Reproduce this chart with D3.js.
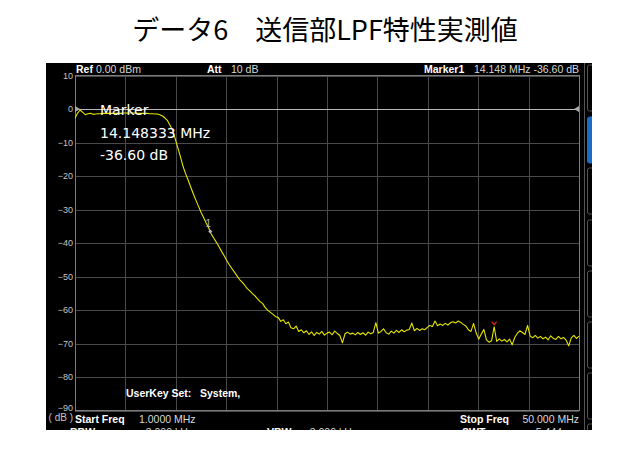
<!DOCTYPE html>
<html><head><meta charset="utf-8">
<script src="https://cdn.jsdelivr.net/npm/d3@7/dist/d3.min.js"></script>
<style>body{margin:0;background:#fff}svg{display:block}</style>
</head><body><svg id="c" width="635" height="451"></svg>
<script>
// ---- data ----
const title = "データ6　送信部LPF特性実測値";
const yTicks = [10, 0, -10, -20, -30, -40, -50, -60, -70, -80, -90];
const startFreq = 1.0;      // MHz
const stopFreq = 50.0;      // MHz
const sweepStep = 0.25;     // MHz between trace points
const refLevel = 0;         // dB
const traceDb = [
  -2.8,-1.2,-0.3,-1.0,-1.7,-1.4,-1.3,-1.6,-1.5,-1.4,-1.4,-1.3,-1.3,-1.3,-1.3,-1.3,
  -1.3,-1.3,-1.3,-1.2,-1.2,-1.2,-1.2,-1.2,-1.3,-1.3,-1.3,-1.3,-1.3,-1.4,-1.4,-1.5,
  -1.5,-1.7,-2.1,-2.7,-3.5,-4.9,-6.4,-9.0,-11.6,-14.2,-17.1,-19.3,-21.2,-23.3,-25.3,-27.2,
  -29.0,-30.8,-32.4,-34.0,-35.5,-37.3,-38.6,-39.8,-41.1,-42.5,-43.8,-45.2,-46.5,-47.6,-48.7,-49.8,
  -50.9,-51.7,-52.6,-53.6,-54.3,-55.1,-55.8,-56.7,-57.5,-58.1,-59.3,-60.1,-60.7,-61.3,-62.0,-62.2,
  -63.4,-62.9,-64.1,-63.6,-65.3,-65.6,-64.8,-66.4,-65.9,
  -66.8,-66.2,-67.3,-66.5,-67.6,-66.7,-67.2,-66.4,-67.5,-66.9,-66.6,-67.4,-66.3,-67.0,-67.6,-69.8,
  -67.1,-66.6,-67.2,-66.9,-67.4,-66.7,-67.3,-66.8,-67.5,-66.6,-67.1,-66.7,-63.8,-66.9,-66.4,-65.6,
  -66.8,-67.2,-66.3,-66.9,-66.1,-66.7,-65.9,-66.5,-66.0,-65.8,-63.9,-66.2,-65.5,-66.1,-65.6,-65.9,
  -65.2,-64.6,-64.9,-63.3,-64.7,-64.2,-64.6,-64.0,-64.5,-63.8,-63.5,-63.9,-63.3,-63.7,-64.3,-64.8,
  -65.9,-66.4,-64.0,-66.8,-68.7,-67.2,-65.8,-68.9,-69.6,-69.2,-65.0,-69.4,-68.6,-69.3,-68.8,-69.5,
  -68.7,-70.4,-68.2,-67.0,-66.2,-66.7,-67.3,-64.6,-67.8,-68.3,-67.6,-68.4,-67.9,-68.6,-68.1,-68.9,
  -67.7,-68.5,-68.8,-67.9,-68.6,-68.2,-69.0,-70.7,-68.3,-67.6,-68.5,-67.8
];
const markerFreq = 14.148333;   // MHz
const markerDb = -36.60;
const peakFreq = 41.75;         // red peak indicator
const peakDb = -64.4;
const headerTexts = [
  {label:"Ref", value:"0.00 dBm"},
  {label:"Att", value:"10 dB"},
  {label:"Marker1", value:"14.148 MHz   -36.60 dB"}
];
const footerRow1 = [["Start Freq","1.0000 MHz"],["Stop Freq","50.000 MHz"]];
const footerRow2 = [["RBW","3.000 kHz"],["VBW","3.000 kHz"],["SWT","5.444 ms"]];
const userKeyText = ["UserKey Set:", "System,"];
const markerBox = ["Marker", "14.148333 MHz", "-36.60 dB"];

// ---- drawing ----
const svg = d3.select("#c");
const W = 635, H = 451;
svg.append("rect").attr("width", W).attr("height", H).attr("fill", "#fff");

svg.append("text").attr("x", 325).attr("y", 40).attr("text-anchor", "middle")
  .attr("font-family", "'Noto Sans CJK JP', 'Noto Sans', sans-serif")
  .attr("font-size", 27).attr("fill", "#000").text(title);

// screen area
const scr = {x0: 46, y0: 63, x1: 592, y1: 430};
const defs = svg.append("defs");
defs.append("clipPath").attr("id", "scr").append("rect")
  .attr("x", scr.x0).attr("y", scr.y0).attr("width", scr.x1 - scr.x0).attr("height", scr.y1 - scr.y0);
const plot = {x0: 75, x1: 579, y0: 75.5, y1: 410.5};
defs.append("clipPath").attr("id", "plt").append("rect")
  .attr("x", plot.x0).attr("y", plot.y0 - 1).attr("width", plot.x1 - plot.x0).attr("height", plot.y1 - plot.y0 + 2);

const g = svg.append("g").attr("clip-path", "url(#scr)");
g.append("rect").attr("x", scr.x0).attr("y", scr.y0).attr("width", scr.x1 - scr.x0)
  .attr("height", scr.y1 - scr.y0).attr("fill", "#000");

const x = d3.scaleLinear().domain([startFreq, stopFreq]).range([plot.x0, plot.x1]);
const y = d3.scaleLinear().domain([-90, 10]).range([plot.y1, plot.y0]);

// vertical grid (10 divisions)
const divs = d3.range(11).map(i => startFreq + i * (stopFreq - startFreq) / 10);
const xg = g.append("g").attr("transform", `translate(0,${plot.y1})`)
  .call(d3.axisBottom(x).tickValues(divs).tickFormat("").tickSize(-(plot.y1 - plot.y0)));
xg.select(".domain").remove();
xg.selectAll("line").attr("stroke", "#4a4a4a").attr("shape-rendering", "crispEdges");

// horizontal grid + labels
const yg = g.append("g").attr("transform", `translate(${plot.x0},0)`)
  .call(d3.axisLeft(y).tickValues(yTicks).tickSize(-(plot.x1 - plot.x0)).tickPadding(2));
yg.select(".domain").remove();
yg.selectAll("line").attr("stroke", "#4a4a4a").attr("shape-rendering", "crispEdges");
yg.selectAll("text").attr("fill", "#c4c4c4").attr("font-size", 9)
  .attr("font-family", "'Liberation Sans', Arial, sans-serif");
yg.selectAll(".tick").filter(d => d === -90).select("text").attr("dy", "0.0em");

// frame
g.append("rect").attr("x", plot.x0).attr("y", plot.y0).attr("width", plot.x1 - plot.x0)
  .attr("height", plot.y1 - plot.y0).attr("fill", "none").attr("stroke", "#7c7c7c")
  .attr("shape-rendering", "crispEdges");

// reference level line
g.append("line").attr("x1", plot.x0).attr("x2", plot.x1).attr("y1", y(refLevel)).attr("y2", y(refLevel))
  .attr("stroke", "#b8b8b8").attr("shape-rendering", "crispEdges");
g.append("path").attr("d", `M${plot.x0},${y(refLevel)-3}L${plot.x0+5},${y(refLevel)}L${plot.x0},${y(refLevel)+3}Z`).attr("fill", "#aaa");
g.append("path").attr("d", `M${plot.x1},${y(refLevel)-3}L${plot.x1-5},${y(refLevel)}L${plot.x1},${y(refLevel)+3}Z`).attr("fill", "#aaa");

// trace
const pts = traceDb.map((v, i) => [startFreq + i * sweepStep, v]);
g.append("path").datum(pts).attr("clip-path", "url(#plt)")
  .attr("d", d3.line().x(d => x(d[0])).y(d => y(d[1])))
  .attr("fill", "none").attr("stroke", "#e6e600").attr("stroke-width", 1.1).attr("stroke-linejoin", "round");

// marker
const mx = x(markerFreq), my = y(markerDb);
g.append("path").attr("d", `M${mx},${my-2}L${mx+2},${my}L${mx},${my+2}L${mx-2},${my}Z`).attr("fill", "#bbb");
g.append("text").attr("x", mx - 2).attr("y", my - 5).attr("font-size", 10).attr("fill", "#bbb")
  .attr("font-family", "'Liberation Sans', Arial, sans-serif").attr("text-anchor", "middle").text("1");

// peak indicator (red)
const px = x(peakFreq), py = y(peakDb);
g.append("path").attr("d", `M${px-2.5},${py-3}L${px},${py}L${px+2.5},${py-3}`)
  .attr("fill", "none").attr("stroke", "#e02020").attr("stroke-width", 1.2);

// marker box text
const mb = g.append("g").attr("font-family", "'DejaVu Sans', sans-serif").attr("font-size", 14).attr("fill", "#fff");
markerBox.forEach((t, i) => mb.append("text").attr("x", 100).attr("y", 115 + i * 22.5).text(t));

const fam = "'Liberation Sans', Arial, sans-serif";
function pair(xl, yb, label, xv, value, anchorEnd) {
  g.append("text").attr("x", xl).attr("y", yb).attr("font-family", fam).attr("font-size", 10.5)
    .attr("font-weight", "bold").attr("fill", "#fff").text(label);
  g.append("text").attr("x", xv).attr("y", yb).attr("font-family", fam).attr("font-size", 10.5)
    .attr("fill", "#d8d8d8").attr("text-anchor", anchorEnd ? "end" : "start").text(value);
}
// header
pair(76, 73, headerTexts[0].label, 96, headerTexts[0].value);
pair(207, 73, headerTexts[1].label, 231, headerTexts[1].value);
pair(424, 73, headerTexts[2].label, 579, headerTexts[2].value, true);

// footer
pair(75, 423, footerRow1[0][0], 139, footerRow1[0][1]);
pair(460, 423, footerRow1[1][0], 579, footerRow1[1][1], true);
pair(70, 436, footerRow2[0][0], 193, footerRow2[0][1], true);
pair(267, 436, footerRow2[1][0], 357, footerRow2[1][1], true);
pair(462, 436, footerRow2[2][0], 579, footerRow2[2][1], true);
g.append("text").attr("x", 62).attr("y", 436).attr("font-family", fam).attr("font-size", 10)
  .attr("fill", "#e02020").text("x");

// dB unit
g.append("text").attr("x", 73).attr("y", 421).attr("text-anchor", "end").attr("font-family", fam)
  .attr("font-size", 10).attr("fill", "#c4c4c4").text("( dB )");

// user key text
g.append("text").attr("x", 126).attr("y", 397).attr("font-family", fam).attr("font-size", 10.5)
  .attr("font-weight", "bold").attr("fill", "#fff").text(userKeyText[0]);
g.append("text").attr("x", 200).attr("y", 397).attr("font-family", fam).attr("font-size", 10.5)
  .attr("font-weight", "bold").attr("fill", "#fff").text(userKeyText[1]);

// side panel
g.append("line").attr("x1", 584.5).attr("x2", 584.5).attr("y1", scr.y0).attr("y2", scr.y1)
  .attr("stroke", "#555");
const btnTops = [65, 117, 168, 220, 271, 322, 373, 424];
btnTops.forEach((t, i) => {
  g.append("rect").attr("x", 587.5).attr("y", t).attr("width", 12).attr("height", 46).attr("rx", 2)
    .attr("fill", i === 1 ? "#1a6cc4" : "#000").attr("stroke", i === 1 ? "#1a6cc4" : "#555");
});
</script></body></html>
